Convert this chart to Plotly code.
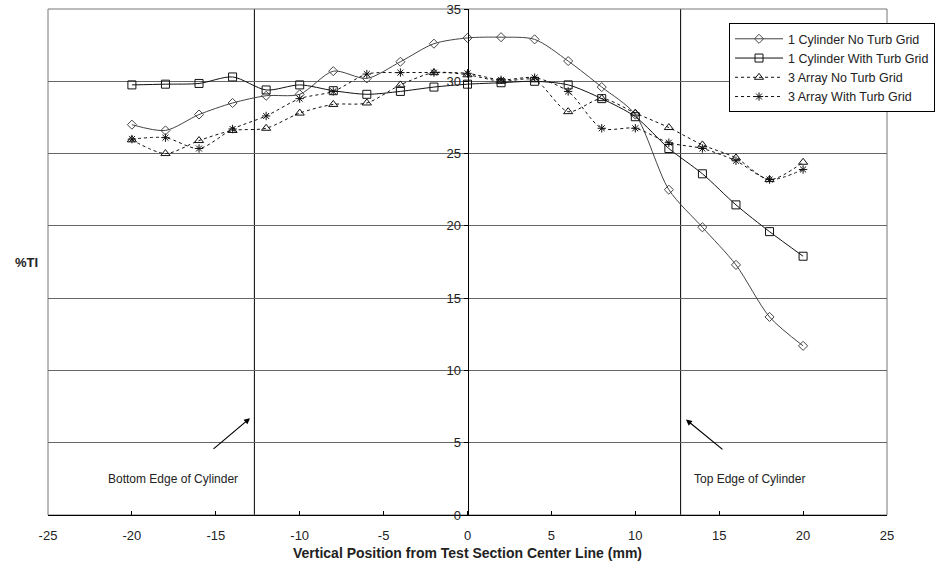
import plotly.graph_objects as go

x_mm = [-20, -18, -16, -14, -12, -10, -8, -6, -4, -2, 0, 2, 4, 6, 8, 10, 12, 14, 16, 18, 20]

cyl_no_grid = [27.0, 26.6, 27.7, 28.5, 29.0, 29.1, 30.7, 30.2, 31.35, 32.6, 33.0, 33.05, 32.9,
               31.4, 29.6, 27.7, 22.5, 19.9, 17.3, 13.7, 11.7]
cyl_with_grid = [29.75, 29.8, 29.85, 30.3, 29.4, 29.75, 29.35, 29.1, 29.3, 29.6, 29.8, 29.9, 30.0,
                 29.75, 28.8, 27.55, 25.35, 23.6, 21.45, 19.6, 17.9]
arr_no_grid = [25.95, 25.0, 25.9, 26.6, 26.75, 27.8, 28.4, 28.5, 29.75, 30.6, 30.45, 30.0, 30.1,
               27.9, 28.8, 27.8, 26.8, 25.6, 24.7, 23.2, 24.4]
arr_with_grid = [26.0, 26.1, 25.35, 26.7, 27.6, 28.8, 29.3, 30.5, 30.6, 30.6, 30.55, 30.1, 30.25,
                 29.3, 26.75, 26.75, 25.75, 25.35, 24.5, 23.2, 23.9]

names = ["1 Cylinder No Turb Grid", "1 Cylinder With Turb Grid",
         "3 Array No Turb Grid", "3 Array With Turb Grid"]
x_ticks = [-25, -20, -15, -10, -5, 0, 5, 10, 15, 20, 25]
y_ticks = [0, 5, 10, 15, 20, 25, 30, 35]
cyl_edges = [-12.7, 12.7]

fig = go.Figure()
styles = [
    (cyl_no_grid, "solid", "diamond-open", "#444444", 7),
    (cyl_with_grid, "solid", "square-open", "#111111", 8),
    (arr_no_grid, "3px,3px", "triangle-up-open", "#111111", 8),
    (arr_with_grid, "3px,3px", "asterisk-open", "#111111", 7),
]
for (ys, dash, sym, col, sz), nm in zip(styles, names):
    fig.add_trace(go.Scatter(
        x=x_mm, y=ys, name=nm, mode="lines+markers",
        line=dict(color=col, width=1, dash=dash, shape="spline", smoothing=0.8),
        marker=dict(symbol=sym, size=sz, color=col, line=dict(color=col, width=1)),
    ))

shapes = []
for xe in cyl_edges:
    shapes.append(dict(type="line", xref="x", yref="paper", x0=xe, x1=xe, y0=0, y1=1,
                       line=dict(color="black", width=1), layer="below"))
shapes.append(dict(type="rect", xref="paper", yref="paper", x0=0, x1=1, y0=0, y1=1,
                   line=dict(color="#777777", width=1), layer="below"))
fig.update_layout(shapes=shapes)

font_main = "Liberation Sans, Arial"
fig.update_layout(
    width=940, height=571,
    margin=dict(l=48, r=53, t=9, b=56, autoexpand=False),
    paper_bgcolor="white", plot_bgcolor="white",
    showlegend=True,
    legend=dict(x=0.8117, y=0.972, xanchor="left", yanchor="top",
                bgcolor="white", bordercolor="black", borderwidth=1,
                font=dict(family="Liberation Sans, Arial", size=12.5, color="#222"),
                tracegroupgap=0, itemwidth=48),
    xaxis=dict(range=[-25, 25], tickvals=x_ticks, ticktext=[str(v) for v in x_ticks],
               showgrid=False, zeroline=False, showline=True, linecolor="black", linewidth=1,
               ticks="inside", ticklen=4, tickcolor="black", ticklabelstandoff=8,
               automargin=False,
               tickfont=dict(family=font_main, size=13, color="#222"),
               title=dict(text="<b>Vertical Position from Test Section Center Line (mm)</b>",
                          font=dict(family=font_main, size=14, color="#222"), standoff=6)),
    yaxis=dict(range=[0, 35], tickvals=y_ticks, ticktext=[str(v) for v in y_ticks],
               anchor="free", position=0.5, showgrid=True, gridcolor="#666666", gridwidth=1,
               zeroline=False, showline=True, linecolor="black", linewidth=1,
               ticks="outside", ticklen=4, tickcolor="black", automargin=False,
               tickfont=dict(family=font_main, size=13, color="#222")),
)

fig.add_annotation(xref="paper", yref="paper", x=-0.0, y=0.5, xshift=-8, text="<b>%TI</b>",
                   showarrow=False, xanchor="right",
                   font=dict(family=font_main, size=13, color="#222"))
fig.add_annotation(x=-12.96, y=6.7, ax=-38, ay=32, text="", showarrow=True,
                   arrowhead=2, arrowsize=1, arrowwidth=1.2, arrowcolor="black")
fig.add_annotation(x=13.02, y=6.6, ax=38, ay=31, text="", showarrow=True,
                   arrowhead=2, arrowsize=1, arrowwidth=1.2, arrowcolor="black")
fig.add_annotation(x=-17.55, y=2.49, text="Bottom Edge of Cylinder", showarrow=False,
                   font=dict(family="Liberation Sans, Arial", size=12, color="#222"))
fig.add_annotation(x=16.78, y=2.49, text="Top Edge of Cylinder", showarrow=False,
                   font=dict(family="Liberation Sans, Arial", size=12, color="#222"))

fig.write_html("out.html", config={"displayModeBar": False},
               post_script="document.body.style.margin='0px';")
